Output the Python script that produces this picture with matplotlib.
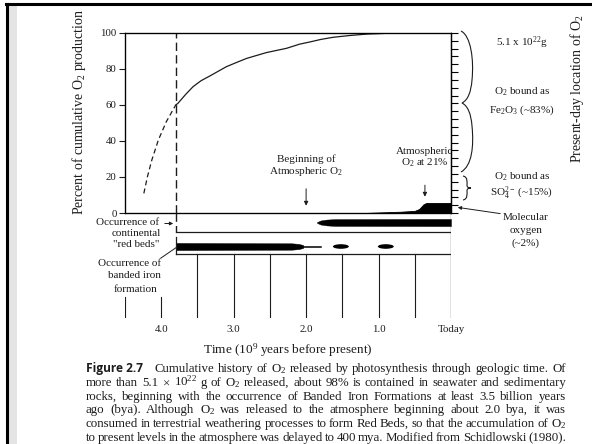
import numpy as np
import matplotlib
matplotlib.use("Agg")
import matplotlib.pyplot as plt
from matplotlib.patches import Ellipse, PathPatch, Rectangle, FancyArrowPatch
from matplotlib.path import Path
from matplotlib.lines import Line2D

plt.rcParams['font.family'] = ['Liberation Serif', 'DejaVu Serif']
plt.rcParams['mathtext.fontset'] = 'custom'
plt.rcParams['mathtext.rm'] = 'Liberation Serif'
plt.rcParams['mathtext.it'] = 'Liberation Serif:italic'
plt.rcParams['mathtext.bf'] = 'Liberation Serif:bold'

INK = '#1c1c1c'

# ---- data (time in 10^9 years before present) ----
# cumulative O2 production, early (uncertain) part
t_early = [4.24, 4.19, 4.13, 4.04, 3.93, 3.80]
p_early = [10.9, 20.2, 29.4, 40.5, 50.7, 60.0]
# cumulative O2 production, documented part
t_late = [3.80, 3.77, 3.66, 3.56, 3.45, 3.33, 3.10, 2.95, 2.82, 2.55, 2.27, 2.09, 1.95,
          1.80, 1.63, 1.40, 1.16, 0.90, 0.70, 0.0]
p_late = [60.0, 60.9, 66.0, 70.2, 73.5, 76.1, 81.3, 83.8, 85.9, 89.1, 91.5, 93.8, 95.0,
          96.4, 97.6, 98.6, 99.4, 99.8, 100.0, 100.0]
# free molecular oxygen in the atmosphere
t_mol = [1.20, 1.00, 0.70, 0.50, 0.44, 0.38, 0.34, 0.0]
p_mol = [0.0, 0.3, 0.7, 1.2, 2.2, 4.8, 5.6, 5.6]
# onset of red beds and banded iron formations
t_start = 3.80
redbed_t = [1.85, 1.80, 1.72, 1.60, 0.0]
redbed_h = [0.4, 2.0, 2.9, 3.4, 3.6]
bif_t = [3.80, 2.20, 2.10, 2.04]
bif_h = [3.6, 3.2, 2.6, 1.4]
bif_tail = [2.04, 1.80]
bif_pods = [1.52, 0.90]
pod_width = 0.22

y_ticks = [0, 20, 40, 60, 80, 100]
right_ticks = np.linspace(0, 100, 24)
grid_t = [4.5, 4.0, 3.5, 3.0, 2.5, 2.0, 1.5, 1.0, 0.5, 0.0]
time_ticks = [4.0, 3.0, 2.0, 1.0, 0.0]
time_labels = ['4.0', '3.0', '2.0', '1.0', 'Today']

W, H = 592, 444
fig = plt.figure(figsize=(W / 100, H / 100), dpi=100)


def rect(x0, y0, x1, y1):
    return [x0 / W, 1 - y1 / H, (x1 - x0) / W, (y1 - y0) / H]


def ftext(x, y, s, **kw):
    kw.setdefault('color', INK)
    return fig.text(x / W, 1 - y / H, s, **kw)


def fline(xs, ys, **kw):
    kw.setdefault('color', 'black')
    fig.add_artist(Line2D([x / W for x in xs], [1 - y / H for y in ys],
                          transform=fig.transFigure, **kw))


def farrow(p0, p1):
    fig.add_artist(FancyArrowPatch((p0[0] / W, 1 - p0[1] / H), (p1[0] / W, 1 - p1[1] / H),
                                   transform=fig.transFigure, arrowstyle='-|>',
                                   mutation_scale=5, lw=0.7, color=INK))


# slide frame
fig.add_artist(Rectangle((9 / W, 0), 8 / W, 1 - 5 / H, transform=fig.transFigure,
                         color='#e4e4e4', lw=0))
fline([6, 592], [4, 4], lw=2.2)
fline([7, 7], [4, 444], lw=2.2)

# ---- main panel ----
ax = fig.add_axes(rect(125, 33, 451, 213))
ax.set_xlim(4.5, 0)
ax.set_ylim(0, 100)
ax.set_xticks([])
ax.set_yticks(y_ticks)
ax.tick_params(axis='y', labelsize=7.8, length=4, width=0.8, pad=2, colors=INK)
for s in ax.spines.values():
    s.set_linewidth(0.9)
ax.plot(t_early, p_early, color=INK, lw=0.9, ls=(0, (4, 2.6)))
ax.plot(t_late, p_late, color=INK, lw=0.9)
ax.axvline(t_start, color=INK, lw=1.0, ls=(0, (6, 3)))
ax.fill_between(t_mol, 0, p_mol, color='black', lw=0.6)

axr = ax.twinx()
axr.set_ylim(0, 100)
axr.set_yticks(right_ticks)
axr.set_yticklabels([])
axr.tick_params(axis='y', length=5, width=0.8)
axr.spines['right'].set_linewidth(0.9)

ftext(79, 112, 'Percent of cumulative O$_2$ production', rotation=90,
      ha='center', va='center', fontsize=10)
ftext(577, 89, 'Present-day location of O$_2$', rotation=90,
      ha='center', va='center', fontsize=10)

# annotations inside the panel
ax.text(2.0, 26, 'Beginning of\nAtmospheric O$_2$', ha='center', va='center',
        fontsize=8, color=INK, linespacing=1.1)
ax.annotate('', xy=(2.0, 2.5), xytext=(2.0, 15),
            arrowprops=dict(arrowstyle='-|>', color=INK, lw=0.7, mutation_scale=6))
ax.text(0.36, 30.5, 'Atmospheric\nO$_2$ at 21%', ha='center', va='center',
        fontsize=8, color=INK, linespacing=1.1)
ax.annotate('', xy=(0.36, 7.5), xytext=(0.36, 17),
            arrowprops=dict(arrowstyle='-|>', color=INK, lw=0.7, mutation_scale=6))

# ---- occurrence bands and time scale ----
axb = fig.add_axes(rect(125, 213, 451, 360))
axb.set_xlim(4.5, 0)
axb.set_ylim(147, 0)
axb.axis('off')
axb.plot([t_start, t_start], [0, 19], color=INK, lw=1.0, ls=(0, (6, 3)))
axb.plot([t_start, 0], [19, 19], color=INK, lw=0.9)
axb.plot([t_start, t_start], [24, 41], color=INK, lw=0.9)
axb.plot([t_start, 0], [41, 41], color=INK, lw=0.9)
axb.plot([0, 0], [0, 104], color=INK, lw=0.9)
for t in grid_t[:-1]:
    top = 84 if t > t_start else 41
    axb.plot([t, t], [top, 104], color=INK, lw=0.8)

rb_c = 9.5
axb.fill_between(redbed_t, rb_c - np.array(redbed_h), rb_c + np.array(redbed_h),
                 color='black', lw=0.3)
bif_c = 33.5
axb.fill_between(bif_t, bif_c - np.array(bif_h), bif_c + np.array(bif_h),
                 color='black', lw=0.3)
axb.plot(bif_tail, [bif_c, bif_c], color='black', lw=1.1)
for c in bif_pods:
    axb.add_patch(Ellipse((c, bif_c), pod_width, 4.6, color='black', lw=0))

for t, lab in zip(time_ticks, time_labels):
    axb.text(t, 116, lab, ha='center', va='center', fontsize=7.8, color=INK)
axb.text(2.25, 137, 'Time (10$^9$ years before present)', ha='center', va='center',
         fontsize=9.5, color=INK)

# labels for the bands
ftext(128, 222, 'Occurrence of', ha='center', va='center', fontsize=8)
ftext(136, 233, 'continental', ha='center', va='center', fontsize=8)
ftext(136, 244, '"red beds"', ha='center', va='center', fontsize=8)
farrow((162, 223.5), (176, 223.5))
ftext(130, 263, 'Occurrence of', ha='center', va='center', fontsize=8)
ftext(134, 276, 'banded iron', ha='center', va='center', fontsize=8)
ftext(136, 289, 'formation', ha='center', va='center', fontsize=8)
fline([161, 177], [258, 247], lw=0.7, color=INK)

# ---- present-day reservoirs ----
def brace_path(pts):
    verts = [(x / W, 1 - y / H) for x, y in pts]
    codes = [Path.MOVETO] + [Path.CURVE4] * (len(pts) - 1)
    fig.add_artist(PathPatch(Path(verts, codes), transform=fig.transFigure,
                             fill=False, lw=0.8, edgecolor=INK))


brace_path([(461, 31), (471, 36), (474, 60), (472, 80),
            (471, 92), (468, 100), (462, 103),
            (468, 106), (471, 114), (472, 126),
            (474, 146), (472, 166), (461, 172)])
brace_path([(463, 176), (468, 177), (467, 182), (467, 185),
            (467, 187), (468, 188), (471, 188),
            (468, 188), (467, 189), (467, 191),
            (467, 194), (468, 199), (463, 200)])

ftext(522, 43, '5.1 x 10$^{22}$g', ha='center', va='center', fontsize=8)
ftext(522, 92, 'O$_2$ bound as', ha='center', va='center', fontsize=8)
ftext(522, 110, 'Fe$_2$O$_3$ (~83%)', ha='center', va='center', fontsize=8)
ftext(522, 177, 'O$_2$ bound as', ha='center', va='center', fontsize=8)
ftext(522, 193, 'SO$_4^{2-}$ (~15%)', ha='center', va='center', fontsize=8)
ftext(526, 217, 'Molecular', ha='center', va='center', fontsize=8)
ftext(526, 230, 'oxygen', ha='center', va='center', fontsize=8)
ftext(526, 243, '(~2%)', ha='center', va='center', fontsize=8)
farrow((503, 214), (455, 207))

# ---- caption, fully justified ----
renderer = fig.canvas.get_renderer()
X0, X1 = 86, 566


def justified(words, y_base, lead=None):
    items = []
    if lead is not None:
        items.append(ftext(0, y_base, lead, fontsize=8.6, fontweight='bold',
                           family=['Open Sans', 'DejaVu Sans'], va='baseline'))
    for w in words:
        items.append(ftext(0, y_base, w, fontsize=9.3, va='baseline'))
    widths = [t.get_window_extent(renderer).width for t in items]
    extra = 8 if lead is not None else 0
    gap = (X1 - X0 - sum(widths) - extra) / (len(items) - 1)
    x = X0
    for i, (t, w) in enumerate(zip(items, widths)):
        t.set_x(x / W)
        x += w + gap + (extra if (i == 0 and lead is not None) else 0)


caption = [
    'Cumulative history of O$_2$ released by photosynthesis through geologic time. Of',
    'more than 5.1 $\\times$ 10$^{22}$ g of O$_2$ released, about 98% is contained in seawater and sedimentary',
    'rocks, beginning with the occurrence of Banded Iron Formations at least 3.5 billion years',
    'ago (bya). Although O$_2$ was released to the atmosphere beginning about 2.0 bya, it was',
    'consumed in terrestrial weathering processes to form Red Beds, so that the accumulation of O$_2$',
    'to present levels in the atmosphere was delayed to 400 mya. Modified from Schidlowski (1980).',
]
baselines = [372, 386, 400, 413, 427, 441]
for i, (line, yb) in enumerate(zip(caption, baselines)):
    words = line.replace('$\\times$', '@').split(' ')
    words = [w.replace('@', '$\\times$') for w in words]
    justified(words, yb, lead='Figure 2.7' if i == 0 else None)

fig.savefig('out.png', dpi=100)
